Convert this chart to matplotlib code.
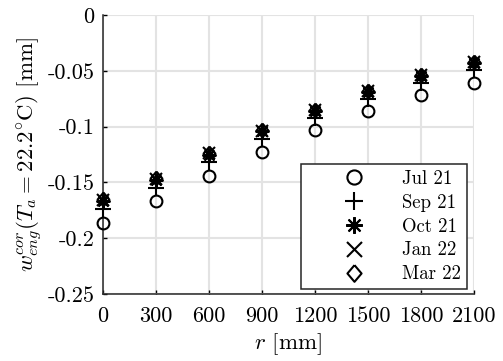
import matplotlib
matplotlib.use('Agg')
import matplotlib.pyplot as plt
import numpy as np

# LaTeX-like look (Computer Modern)
plt.rcParams['font.family'] = ['cmr10', 'DejaVu Serif']
plt.rcParams['mathtext.fontset'] = 'cm'
plt.rcParams['axes.unicode_minus'] = False
plt.rcParams['axes.formatter.use_mathtext'] = True

# data
r = [0, 300, 600, 900, 1200, 1500, 1800, 2100]
jul21 = [-0.186, -0.167, -0.144, -0.123, -0.103, -0.086, -0.072, -0.061]
sep21 = [-0.174, -0.155, -0.132, -0.111, -0.092, -0.075, -0.061, -0.049]
oct21 = [-0.167, -0.148, -0.125, -0.104, -0.086, -0.069, -0.055, -0.043]
jan22 = [-0.166, -0.147, -0.124, -0.104, -0.085, -0.068, -0.054, -0.042]
mar22 = [-0.165, -0.146, -0.124, -0.103, -0.085, -0.068, -0.054, -0.042]
labels = ['Jul 21', 'Sep 21', 'Oct 21', 'Jan 22', 'Mar 22']

xticks = [0, 300, 600, 900, 1200, 1500, 1800, 2100]
yticks = [0, -0.05, -0.1, -0.15, -0.2, -0.25]
ytick_labels = ['0', '-0.05', '-0.1', '-0.15', '-0.2', '-0.25']

diamond = [(0, 1), (0.85, 0), (0, -1), (-0.85, 0), (0, 1)]
markers = ['o', '+', (8, 2, 0), 'x', diamond]
sizes = [8.5, 11, 10, 9, 10]
series = [jul21, sep21, oct21, jan22, mar22]

fig = plt.figure(figsize=(5.03, 3.61), dpi=100)
ax = fig.add_axes([0.2048, 0.1856, 0.7375, 0.7728])

for ys, m, s, lab in zip(series, markers, sizes, labels):
    ax.plot(r, ys, linestyle='none', marker=m, markersize=s,
            markerfacecolor='none', markeredgecolor='black',
            markeredgewidth=1.5, color='black', label=lab,
            clip_on=False, zorder=3)

ax.set_xlim(0, 2100)
ax.set_ylim(-0.25, 0)
ax.set_xticks(xticks)
ax.set_xticklabels([str(t) for t in xticks])
ax.set_yticks(yticks)
ax.set_yticklabels(ytick_labels)
ax.tick_params(direction='in', length=3, width=1, labelsize=16)
ax.tick_params(axis='x', pad=9)
ax.tick_params(axis='y', pad=6)

ax.grid(True, color='#e3e3e3', linewidth=1.5)
ax.set_axisbelow(True)
for side in ['top', 'right']:
    ax.spines[side].set_visible(False)
for side in ['left', 'bottom']:
    ax.spines[side].set_linewidth(1.1)
    ax.spines[side].set_color('#262626')

ax.set_xlabel(r'$r$ [mm]', fontsize=16.5, labelpad=4)
ax.set_ylabel(r'$w_{eng}^{cor}(T_a = 22.2^{\circ}\mathrm{C})$ [mm]', fontsize=16.5, labelpad=2)

leg = ax.legend(loc='lower right', bbox_to_anchor=(0.981, 0.018), borderaxespad=0,
                fontsize=13.5, numpoints=1, markerscale=1.2, fancybox=False,
                framealpha=1, edgecolor='#262626', labelspacing=0.32,
                borderpad=0.3, handlelength=5.0, handletextpad=0.1)
leg.get_frame().set_linewidth(1.1)

plt.savefig('out.png', dpi=100)
plt.close()
